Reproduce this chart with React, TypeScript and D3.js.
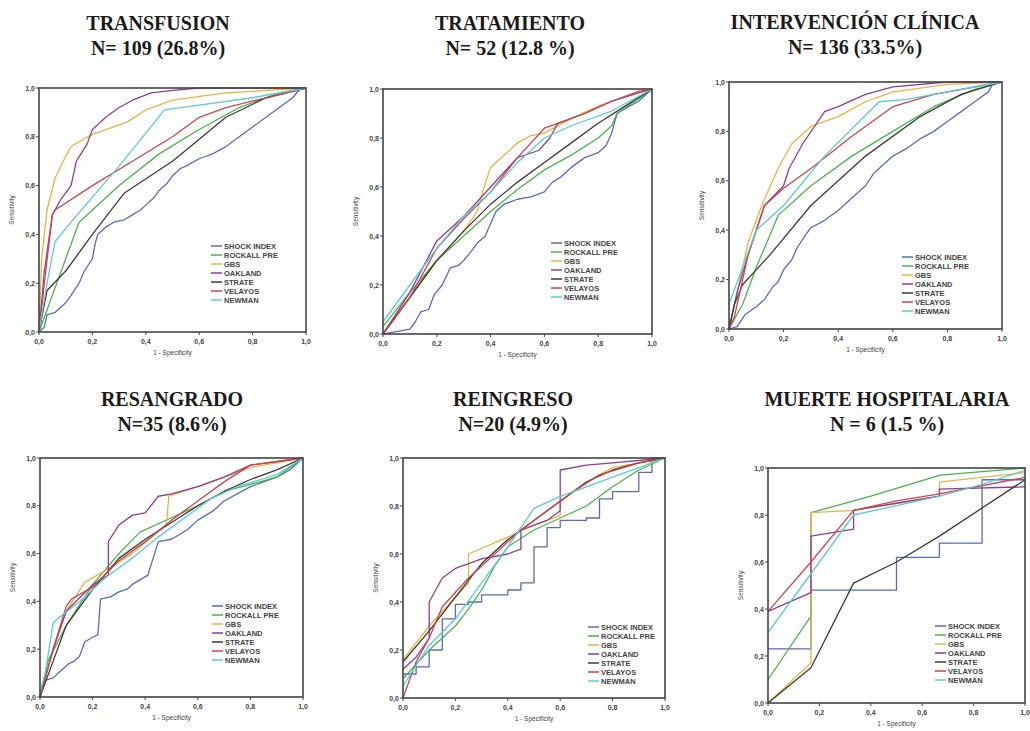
import React from 'react';
import * as d3 from 'd3';

// series (same order as the legend)
const seriesNames = ['SHOCK INDEX', 'ROCKALL PRE', 'GBS', 'OAKLAND', 'STRATE', 'VELAYOS', 'NEWMAN'];
const seriesColors = ['#5a6cb4', '#4fb04f', '#e3b446', '#8c3f92', '#3b3b3b', '#cb454e', '#5ccbcf'];

const panelTitles = ['TRANSFUSION', 'TRATAMIENTO', 'INTERVENCIÓN CLÍNICA', 'RESANGRADO', 'REINGRESO', 'MUERTE HOSPITALARIA'];
const panelCounts = ['N= 109 (26.8%)', 'N= 52 (12.8 %)', 'N= 136 (33.5%)', 'N=35 (8.6%)', 'N=20 (4.9%)', 'N = 6 (1.5 %)'];

const tickValues = [0, 0.2, 0.4, 0.6, 0.8, 1];
const tickLabels = ['0,0', '0,2', '0,4', '0,6', '0,8', '1,0'];

type Pt = [number, number];

// ROC curves [1 - specificity, sensitivity], one list per series
const transfusionCurves: Pt[][] = [
  [[0, 0], [0.02, 0.02], [0.03, 0.07], [0.06, 0.08], [0.08, 0.1], [0.1, 0.12], [0.12, 0.15], [0.15, 0.2], [0.17, 0.25], [0.2, 0.3], [0.21, 0.36], [0.22, 0.4], [0.25, 0.43], [0.28, 0.45], [0.32, 0.46], [0.35, 0.48], [0.38, 0.5], [0.4, 0.52], [0.43, 0.55], [0.45, 0.58], [0.48, 0.61], [0.5, 0.64], [0.53, 0.67], [0.55, 0.68], [0.6, 0.71], [0.65, 0.73], [0.7, 0.76], [0.75, 0.8], [0.8, 0.84], [0.85, 0.88], [0.9, 0.92], [0.95, 0.96], [0.98, 1], [1, 1]],
  [[0, 0], [0.05, 0.15], [0.1, 0.3], [0.15, 0.45], [0.3, 0.6], [0.45, 0.73], [0.6, 0.83], [0.75, 0.92], [0.9, 0.98], [1, 1]],
  [[0, 0], [0.01, 0.3], [0.03, 0.5], [0.06, 0.63], [0.1, 0.72], [0.12, 0.76], [0.2, 0.81], [0.33, 0.86], [0.4, 0.91], [0.5, 0.95], [0.7, 0.98], [1, 1]],
  [[0, 0], [0.02, 0.25], [0.05, 0.48], [0.08, 0.54], [0.12, 0.6], [0.14, 0.7], [0.18, 0.77], [0.2, 0.83], [0.25, 0.88], [0.3, 0.92], [0.35, 0.95], [0.42, 0.98], [0.5, 0.99], [0.6, 1], [1, 1]],
  [[0, 0], [0.03, 0.17], [0.1, 0.25], [0.2, 0.4], [0.32, 0.57], [0.5, 0.7], [0.7, 0.88], [0.85, 0.96], [1, 1]],
  [[0, 0], [0.02, 0.2], [0.05, 0.48], [0.06, 0.5], [0.2, 0.6], [0.35, 0.7], [0.5, 0.8], [0.6, 0.88], [0.7, 0.92], [0.85, 0.96], [1, 1]],
  [[0, 0], [0.03, 0.2], [0.06, 0.37], [0.12, 0.45], [0.3, 0.68], [0.47, 0.91], [0.6, 0.93], [0.8, 0.96], [1, 1]],
];

const tratamientoCurves: Pt[][] = [
  [[0, 0], [0.05, 0.01], [0.1, 0.02], [0.12, 0.05], [0.14, 0.09], [0.17, 0.1], [0.19, 0.16], [0.22, 0.2], [0.25, 0.27], [0.28, 0.28], [0.3, 0.3], [0.33, 0.34], [0.35, 0.37], [0.38, 0.4], [0.4, 0.45], [0.42, 0.5], [0.45, 0.53], [0.5, 0.55], [0.55, 0.56], [0.6, 0.58], [0.63, 0.62], [0.66, 0.64], [0.7, 0.68], [0.75, 0.72], [0.8, 0.74], [0.83, 0.77], [0.85, 0.82], [0.87, 0.9], [0.9, 0.92], [0.95, 0.95], [1, 1]],
  [[0, 0.03], [0.1, 0.17], [0.2, 0.3], [0.3, 0.4], [0.4, 0.5], [0.5, 0.59], [0.6, 0.67], [0.7, 0.73], [0.8, 0.8], [0.85, 0.85], [0.87, 0.9], [0.95, 0.96], [1, 1]],
  [[0, 0], [0.1, 0.15], [0.2, 0.3], [0.3, 0.42], [0.35, 0.5], [0.37, 0.58], [0.4, 0.68], [0.45, 0.73], [0.5, 0.78], [0.55, 0.81], [0.6, 0.82], [0.7, 0.88], [0.8, 0.93], [0.9, 0.97], [1, 1]],
  [[0, 0], [0.1, 0.17], [0.2, 0.38], [0.3, 0.48], [0.4, 0.6], [0.5, 0.72], [0.58, 0.75], [0.62, 0.8], [0.65, 0.86], [0.75, 0.9], [0.85, 0.95], [1, 1]],
  [[0, 0], [0.1, 0.15], [0.2, 0.3], [0.3, 0.42], [0.4, 0.53], [0.5, 0.62], [0.6, 0.7], [0.7, 0.78], [0.8, 0.86], [0.9, 0.93], [1, 1]],
  [[0, 0], [0.1, 0.15], [0.2, 0.35], [0.3, 0.47], [0.4, 0.58], [0.5, 0.72], [0.6, 0.84], [0.65, 0.86], [0.75, 0.9], [0.85, 0.95], [0.95, 0.99], [1, 1]],
  [[0, 0.05], [0.1, 0.2], [0.2, 0.35], [0.3, 0.48], [0.4, 0.58], [0.5, 0.7], [0.6, 0.8], [0.7, 0.85], [0.85, 0.91], [1, 1]],
];

const intervencionCurves: Pt[][] = [
  [[0, 0], [0.03, 0.01], [0.06, 0.06], [0.1, 0.09], [0.13, 0.12], [0.16, 0.17], [0.18, 0.19], [0.2, 0.24], [0.23, 0.28], [0.25, 0.33], [0.28, 0.38], [0.3, 0.41], [0.35, 0.44], [0.4, 0.48], [0.43, 0.51], [0.45, 0.53], [0.5, 0.58], [0.53, 0.63], [0.55, 0.65], [0.6, 0.7], [0.65, 0.73], [0.7, 0.77], [0.75, 0.8], [0.8, 0.84], [0.85, 0.88], [0.9, 0.92], [0.95, 0.96], [0.97, 1], [1, 1]],
  [[0, 0], [0.05, 0.1], [0.1, 0.25], [0.15, 0.38], [0.18, 0.46], [0.3, 0.58], [0.45, 0.7], [0.6, 0.8], [0.75, 0.9], [0.9, 0.97], [1, 1]],
  [[0, 0], [0.03, 0.15], [0.07, 0.35], [0.12, 0.5], [0.18, 0.65], [0.23, 0.75], [0.3, 0.82], [0.4, 0.86], [0.5, 0.92], [0.6, 0.96], [0.8, 0.99], [1, 1]],
  [[0, 0], [0.03, 0.15], [0.07, 0.3], [0.13, 0.5], [0.2, 0.58], [0.22, 0.65], [0.27, 0.75], [0.35, 0.88], [0.4, 0.9], [0.5, 0.95], [0.6, 0.98], [0.8, 1], [1, 1]],
  [[0, 0], [0.02, 0.1], [0.05, 0.18], [0.15, 0.3], [0.3, 0.5], [0.5, 0.7], [0.7, 0.86], [0.85, 0.95], [1, 1]],
  [[0, 0], [0.02, 0.05], [0.07, 0.3], [0.13, 0.5], [0.2, 0.57], [0.3, 0.65], [0.45, 0.78], [0.6, 0.9], [0.75, 0.95], [1, 1]],
  [[0, 0.1], [0.05, 0.25], [0.1, 0.4], [0.2, 0.5], [0.35, 0.7], [0.55, 0.92], [0.65, 0.93], [0.8, 0.96], [1, 1]],
];

const resangradoCurves: Pt[][] = [
  [[0, 0], [0.02, 0.07], [0.05, 0.08], [0.07, 0.1], [0.09, 0.12], [0.11, 0.14], [0.13, 0.15], [0.15, 0.17], [0.17, 0.23], [0.2, 0.25], [0.22, 0.26], [0.23, 0.41], [0.27, 0.42], [0.3, 0.44], [0.33, 0.45], [0.35, 0.47], [0.38, 0.49], [0.41, 0.51], [0.43, 0.58], [0.45, 0.65], [0.5, 0.66], [0.53, 0.68], [0.56, 0.7], [0.6, 0.74], [0.63, 0.76], [0.66, 0.78], [0.7, 0.82], [0.75, 0.85], [0.8, 0.88], [0.85, 0.9], [0.9, 0.92], [0.95, 0.95], [1, 1]],
  [[0, 0], [0.03, 0.15], [0.1, 0.3], [0.2, 0.47], [0.3, 0.6], [0.38, 0.69], [0.5, 0.75], [0.6, 0.8], [0.7, 0.86], [0.8, 0.89], [0.9, 0.92], [1, 1]],
  [[0, 0], [0.05, 0.2], [0.1, 0.36], [0.17, 0.48], [0.25, 0.53], [0.35, 0.6], [0.48, 0.72], [0.49, 0.84], [0.6, 0.88], [0.7, 0.92], [0.8, 0.96], [1, 1]],
  [[0, 0], [0.05, 0.2], [0.1, 0.36], [0.2, 0.47], [0.26, 0.51], [0.26, 0.65], [0.3, 0.72], [0.35, 0.76], [0.4, 0.77], [0.45, 0.84], [0.5, 0.85], [0.6, 0.88], [0.7, 0.92], [0.8, 0.97], [1, 1]],
  [[0, 0], [0.05, 0.15], [0.1, 0.3], [0.2, 0.45], [0.3, 0.58], [0.4, 0.66], [0.5, 0.73], [0.6, 0.8], [0.7, 0.86], [0.8, 0.91], [0.9, 0.95], [1, 1]],
  [[0, 0], [0.05, 0.2], [0.1, 0.38], [0.12, 0.41], [0.2, 0.46], [0.3, 0.57], [0.4, 0.65], [0.5, 0.74], [0.6, 0.82], [0.7, 0.9], [0.8, 0.97], [1, 1]],
  [[0, 0.02], [0.02, 0.1], [0.05, 0.31], [0.07, 0.33], [0.15, 0.4], [0.25, 0.5], [0.35, 0.58], [0.45, 0.67], [0.55, 0.75], [0.65, 0.83], [0.75, 0.88], [0.9, 0.93], [1, 1]],
];

const reingresoCurves: Pt[][] = [
  [[0, 0.1], [0.05, 0.1], [0.05, 0.13], [0.1, 0.13], [0.1, 0.2], [0.15, 0.2], [0.15, 0.33], [0.2, 0.33], [0.2, 0.39], [0.25, 0.39], [0.25, 0.4], [0.3, 0.4], [0.3, 0.43], [0.4, 0.43], [0.4, 0.45], [0.45, 0.45], [0.45, 0.48], [0.5, 0.48], [0.5, 0.63], [0.55, 0.63], [0.55, 0.71], [0.6, 0.71], [0.6, 0.74], [0.7, 0.74], [0.7, 0.75], [0.75, 0.75], [0.75, 0.83], [0.8, 0.83], [0.8, 0.86], [0.9, 0.86], [0.9, 0.94], [0.95, 0.94], [0.95, 1], [1, 1]],
  [[0, 0.08], [0.1, 0.2], [0.2, 0.3], [0.25, 0.37], [0.3, 0.45], [0.35, 0.55], [0.4, 0.63], [0.5, 0.7], [0.6, 0.75], [0.7, 0.8], [0.8, 0.88], [0.9, 0.95], [1, 1]],
  [[0, 0.16], [0.1, 0.3], [0.2, 0.42], [0.25, 0.48], [0.25, 0.6], [0.4, 0.67], [0.5, 0.72], [0.6, 0.76], [0.6, 0.82], [0.7, 0.9], [0.8, 0.96], [1, 1]],
  [[0, 0.12], [0.05, 0.17], [0.1, 0.25], [0.1, 0.4], [0.15, 0.5], [0.2, 0.54], [0.3, 0.58], [0.4, 0.6], [0.45, 0.62], [0.45, 0.7], [0.5, 0.72], [0.55, 0.74], [0.6, 0.78], [0.6, 0.95], [0.7, 0.97], [0.8, 0.98], [1, 1]],
  [[0, 0.15], [0.1, 0.28], [0.2, 0.42], [0.3, 0.56], [0.4, 0.66], [0.5, 0.74], [0.6, 0.82], [0.7, 0.9], [0.8, 0.95], [0.9, 0.98], [1, 1]],
  [[0, 0], [0.05, 0.15], [0.1, 0.25], [0.15, 0.38], [0.25, 0.5], [0.35, 0.6], [0.45, 0.7], [0.55, 0.78], [0.65, 0.86], [0.75, 0.93], [0.9, 0.98], [1, 1]],
  [[0, 0.05], [0.1, 0.22], [0.2, 0.33], [0.3, 0.48], [0.4, 0.63], [0.5, 0.79], [0.6, 0.84], [0.7, 0.88], [0.8, 0.92], [0.9, 0.96], [1, 1]],
];

const muerteCurves: Pt[][] = [
  [[0, 0.23], [0.167, 0.23], [0.167, 0.48], [0.5, 0.48], [0.5, 0.62], [0.667, 0.62], [0.667, 0.68], [0.833, 0.68], [0.833, 0.95], [1, 0.95]],
  [[0, 0.1], [0.167, 0.37], [0.167, 0.81], [0.4, 0.88], [0.67, 0.97], [1, 1]],
  [[0, 0], [0.167, 0.17], [0.167, 0.81], [0.333, 0.82], [0.5, 0.85], [0.667, 0.88], [0.667, 0.94], [1, 0.98]],
  [[0, 0.39], [0.167, 0.47], [0.167, 0.71], [0.333, 0.74], [0.333, 0.82], [0.5, 0.85], [0.667, 0.88], [0.667, 0.91], [1, 0.92]],
  [[0, 0], [0.167, 0.15], [0.333, 0.51], [0.5, 0.6], [0.667, 0.71], [1, 0.95]],
  [[0, 0.39], [0.167, 0.6], [0.333, 0.82], [0.5, 0.86], [0.667, 0.89], [1, 0.96]],
  [[0, 0.3], [0.167, 0.55], [0.333, 0.8], [0.5, 0.84], [0.667, 0.88], [0.833, 0.93], [1, 0.99]],
];

const panelCurves = [transfusionCurves, tratamientoCurves, intervencionCurves, resangradoCurves, reingresoCurves, muerteCurves];

// layout of each panel: plot box, title centre/baseline, legend anchor
const boxes = [
  { x0: 39, x1: 306, y0: 88, y1: 332, tx: 158, ty: 30, lx: 211, ly: 246 },
  { x0: 383, x1: 652, y0: 89, y1: 334, tx: 510, ty: 30, lx: 551, ly: 243 },
  { x0: 729, x1: 1002, y0: 82, y1: 329, tx: 855, ty: 29, lx: 902, ly: 257 },
  { x0: 40, x1: 303, y0: 458, y1: 697, tx: 172, ty: 406, lx: 212, ly: 606 },
  { x0: 403, x1: 665, y0: 458, y1: 698, tx: 513, ty: 406, lx: 588, ly: 627 },
  { x0: 768, x1: 1025, y0: 468, y1: 703, tx: 887, ty: 406, lx: 935, ly: 626 },
];

const smallFont = '"Liberation Sans", Arial, sans-serif';
const titleFont = '"Liberation Serif", "Times New Roman", serif';

function RocPanel({ idx }: { idx: number }) {
  const b = boxes[idx];
  const x = d3.scaleLinear().domain([0, 1]).range([b.x0, b.x1]);
  const y = d3.scaleLinear().domain([0, 1]).range([b.y1, b.y0]);
  const line = d3.line<Pt>().x(d => x(d[0])).y(d => y(d[1]));
  const curves = panelCurves[idx];

  return (
    <g>
      <text x={b.tx} y={b.ty} textAnchor="middle" fontFamily={titleFont} fontWeight="bold" fontSize={20} fill="#1a1a1a">
        {panelTitles[idx]}
      </text>
      <text x={b.tx} y={b.ty + 25} textAnchor="middle" fontFamily={titleFont} fontWeight="bold" fontSize={20} fill="#1a1a1a">
        {panelCounts[idx]}
      </text>

      {/* curves */}
      {curves.map((pts, i) => (
        <path key={i} d={line(pts) || ''} fill="none" stroke={seriesColors[i]} strokeWidth={1.3} strokeLinejoin="round" />
      ))}

      {/* frame */}
      <rect x={b.x0} y={b.y0} width={b.x1 - b.x0} height={b.y1 - b.y0} fill="none" stroke="#444" strokeWidth={1.6} />

      {/* axes ticks */}
      {tickValues.map((t, i) => (
        <g key={'t' + i}>
          <line x1={x(t)} x2={x(t)} y1={b.y1} y2={b.y1 + 3} stroke="#444" strokeWidth={1} />
          <text x={x(t)} y={b.y1 + 12} textAnchor="middle" fontFamily={smallFont} fontWeight="bold" fontSize={7} fill="#444">
            {tickLabels[i]}
          </text>
          <line x1={b.x0 - 3} x2={b.x0} y1={y(t)} y2={y(t)} stroke="#444" strokeWidth={1} />
          <text x={b.x0 - 4} y={y(t) + 2.5} textAnchor="end" fontFamily={smallFont} fontWeight="bold" fontSize={7} fill="#444">
            {tickLabels[i]}
          </text>
        </g>
      ))}
      <text x={(b.x0 + b.x1) / 2} y={b.y1 + 23} textAnchor="middle" fontFamily={smallFont} fontSize={6.5} fill="#444">
        1 - Specificity
      </text>
      <text
        transform={`translate(${b.x0 - 25},${(b.y0 + b.y1) / 2}) rotate(-90)`}
        textAnchor="middle" fontFamily={smallFont} fontSize={6.5} fill="#444"
      >
        Sensitivity
      </text>

      {/* legend */}
      {seriesNames.map((name, i) => (
        <g key={'l' + i}>
          <line x1={b.lx} x2={b.lx + 11} y1={b.ly + i * 9} y2={b.ly + i * 9} stroke={seriesColors[i]} strokeWidth={1.5} />
          <text x={b.lx + 13} y={b.ly + i * 9 + 2.6} fontFamily={smallFont} fontWeight="bold" fontSize={7.5} fill="#444">
            {name}
          </text>
        </g>
      ))}
    </g>
  );
}

export default function App() {
  return (
    <svg width={1030} height={731} style={{ position: 'absolute', left: 0, top: 0, background: '#fff' }}>
      <rect width={1030} height={731} fill="#fff" />
      {boxes.map((_, i) => (
        <RocPanel key={i} idx={i} />
      ))}
    </svg>
  );
}
